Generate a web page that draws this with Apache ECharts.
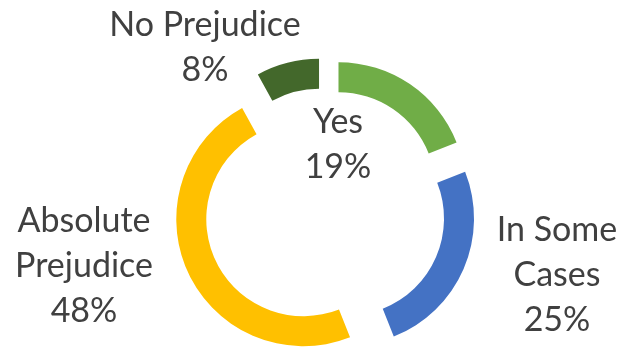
<!DOCTYPE html>
<html>
<head>
<meta charset="utf-8">
<script src="https://cdn.jsdelivr.net/npm/echarts@6/dist/echarts.min.js"></script>
<style>
  html, body { margin: 0; padding: 0; background: #fff; }
  #chart { width: 621px; height: 348px; }
</style>
</head>
<body>
<div id="chart"></div>
<script>
// categories, clockwise from 12 o'clock
const categories = ['Yes', 'In Some Cases', 'Absolute Prejudice', 'No Prejudice'];
// label text as shown (line breaks)
const labelNames = ['Yes', 'In Some\nCases', 'Absolute\nPrejudice', 'No Prejudice'];
// percent values
const values = [19, 25, 48, 8];
const colors = ['#70AD47', '#4472C4', '#FFC000', '#43682B'];

// where each label block sits (centre)
const labelPos = [[338, 145], [557, 275], [84, 266], [205, 48]];

const chart = echarts.init(document.getElementById('chart'));

chart.setOption({
  animation: false,
  graphic: labelNames.map(function (txt, i) {
    return {
      type: 'text',
      x: labelPos[i][0],
      y: labelPos[i][1],
      silent: true,
      style: {
        text: txt + '\n' + values[i] + '%',
        fontFamily: 'Lato',
        fontSize: 34,
        lineHeight: 45,
        fill: '#404040',
        align: 'center',
        verticalAlign: 'middle'
      }
    };
  }),
  series: [{
    type: 'pie',
    center: [325, 209],
    radius: [97, 127],
    startAngle: 90,
    clockwise: true,
    selectedMode: 'multiple',
    selectedOffset: 24,
    silent: true,
    itemStyle: { borderWidth: 0 },
    label: { show: false },
    labelLine: { show: false },
    data: categories.map(function (name, i) {
      return {
        name: name,
        value: values[i],
        selected: true,
        itemStyle: { color: colors[i] },
        select: { itemStyle: { color: colors[i] } }
      };
    })
  }]
});
</script>
</body>
</html>
